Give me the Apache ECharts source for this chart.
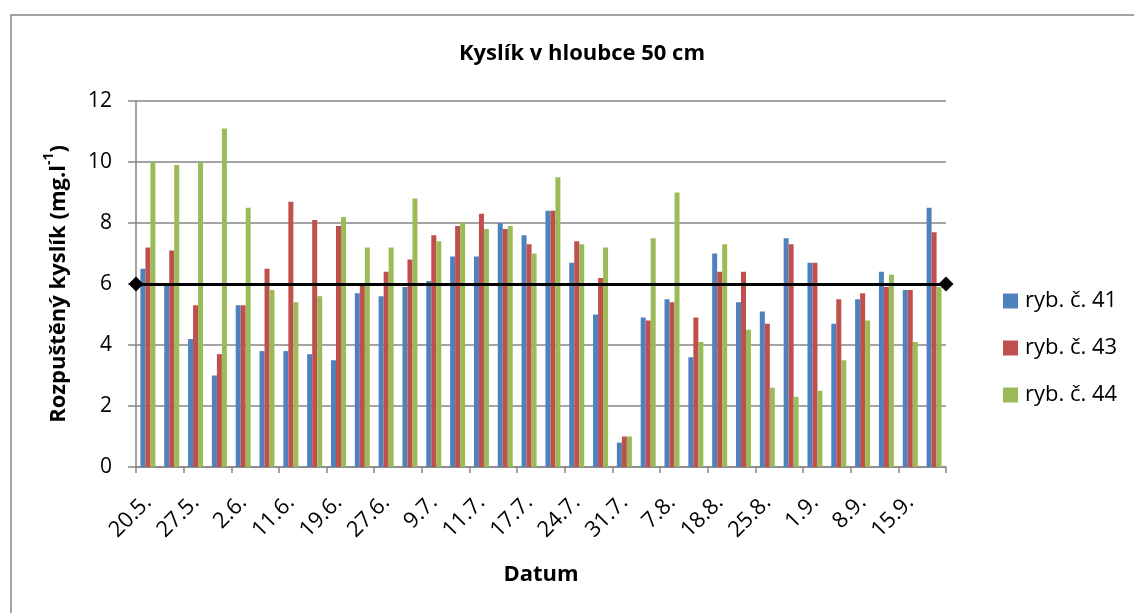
<!DOCTYPE html>
<html>
<head>
<meta charset="utf-8">
<script src="https://cdn.jsdelivr.net/npm/echarts@6/dist/echarts.min.js"></script>
<style>html,body{margin:0;padding:0;background:#fff;}#c{width:1134px;height:613px;}</style>
</head>
<body>
<div id="c"></div>
<script>
var categories = ['20.5.','23.5.','27.5.','30.5.','2.6.','6.6.','11.6.','15.6.','19.6.','23.6.','27.6.','3.7.','9.7.','10.7.','11.7.','14.7.','17.7.','21.7.','24.7.','28.7.','31.7.','3.8.','7.8.','14.8.','18.8.','21.8.','25.8.','28.8.','1.9.','4.9.','8.9.','11.9.','15.9.','22.9.'];
var ryb41 = [6.5,6.0,4.2,3.0,5.3,3.8,3.8,3.7,3.5,5.7,5.6,5.9,6.1,6.9,6.9,8.0,7.6,8.4,6.7,5.0,0.8,4.9,5.5,3.6,7.0,5.4,5.1,7.5,6.7,4.7,5.5,6.4,5.8,8.5];
var ryb43 = [7.2,7.1,5.3,3.7,5.3,6.5,8.7,8.1,7.9,6.0,6.4,6.8,7.6,7.9,8.3,7.8,7.3,8.4,7.4,6.2,1.0,4.8,5.4,4.9,6.4,6.4,4.7,7.3,6.7,5.5,5.7,5.9,5.8,7.7];
var ryb44 = [10.0,9.9,10.0,11.1,8.5,5.8,5.4,5.6,8.2,7.2,7.2,8.8,7.4,8.0,7.8,7.9,7.0,9.5,7.3,7.2,1.0,7.5,9.0,4.1,7.3,4.5,2.6,2.3,2.5,3.5,4.8,6.3,4.1,5.9];
var seriesNames = ['ryb. č. 41','ryb. č. 43','ryb. č. 44'];
var threshold = 6;
var yTicks = {min: 0, max: 12, interval: 2};

var FONT = '"Open Sans", "Noto Sans", sans-serif';
var chart = echarts.init(document.getElementById('c'), null, {renderer: 'canvas'});
var colors = ['#4F81BD', '#C0504D', '#9BBB59'];
var data = [ryb41, ryb43, ryb44];

var series = seriesNames.map(function (n, i) {
  var s = {
    name: n,
    type: 'bar',
    data: data[i],
    barWidth: 5,
    barGap: '0%',
    itemStyle: {color: colors[i]},
    silent: true
  };
  if (i === 2) {
    s.markLine = {
      silent: true,
      symbol: ['diamond', 'diamond'],
      symbolSize: 15,
      label: {show: false},
      lineStyle: {color: '#000', width: 3, type: 'solid'},
      data: [{yAxis: threshold}],
      z: 10
    };
  }
  return s;
});

chart.setOption({
  animation: false,
  backgroundColor: '#fff',
  textStyle: {fontFamily: FONT},
  graphic: [{
    type: 'rect',
    shape: {x: 11, y: 15, width: 1140, height: 640},
    style: {fill: 'none', stroke: '#868686', lineWidth: 1.5},
    silent: true
  }],
  title: {
    text: 'Kyslík v hloubce 50 cm',
    left: 577,
    textAlign: 'center',
    top: 38,
    textStyle: {fontFamily: FONT, fontSize: 22, fontWeight: 'bold', color: '#000'}
  },
  legend: {
    orient: 'vertical',
    left: 998,
    top: 285,
    itemWidth: 15,
    itemHeight: 15,
    itemGap: 25,
    icon: 'rect',
    textStyle: {fontFamily: FONT, fontSize: 22, color: '#000', lineHeight: 22, padding: [0, 0, 0, 2]},
    data: seriesNames
  },
  grid: {left: 136, right: 188, top: 101, bottom: 146, containLabel: false},
  xAxis: {
    type: 'category',
    data: categories,
    name: 'Datum',
    nameLocation: 'middle',
    nameGap: 97,
    nameTextStyle: {fontFamily: FONT, fontSize: 22, fontWeight: 'bold', color: '#000'},
    axisLine: {lineStyle: {color: '#868686', width: 1.5}},
    axisTick: {show: true, length: 6, lineStyle: {color: '#868686', width: 1.5}},
    axisLabel: {interval: 1, rotate: 45, margin: 32, fontFamily: FONT, fontSize: 22, color: '#000'}
  },
  yAxis: {
    type: 'value',
    min: yTicks.min,
    max: yTicks.max,
    interval: yTicks.interval,
    name: '{a|Rozpuštěný kyslík (mg.l}{s|-1}{a|)}',
    nameLocation: 'middle',
    nameGap: 66,
    nameRotate: 90,
    nameTextStyle: {
      rich: {
        a: {fontFamily: FONT, fontSize: 22, fontWeight: 'bold', color: '#000', lineHeight: 28, verticalAlign: 'bottom'},
        s: {fontFamily: FONT, fontSize: 14, fontWeight: 'bold', color: '#000', lineHeight: 28, verticalAlign: 'top', padding: [0, 0, 9, 0]}
      }
    },
    axisLine: {show: true, lineStyle: {color: '#868686', width: 1.5}},
    axisTick: {show: true, length: 8, lineStyle: {color: '#868686', width: 1.5}},
    axisLabel: {margin: 24, fontFamily: FONT, fontSize: 21, color: '#000'},
    splitLine: {show: true, lineStyle: {color: '#868686', width: 1.5}}
  },
  series: series
});
</script>
</body>
</html>
